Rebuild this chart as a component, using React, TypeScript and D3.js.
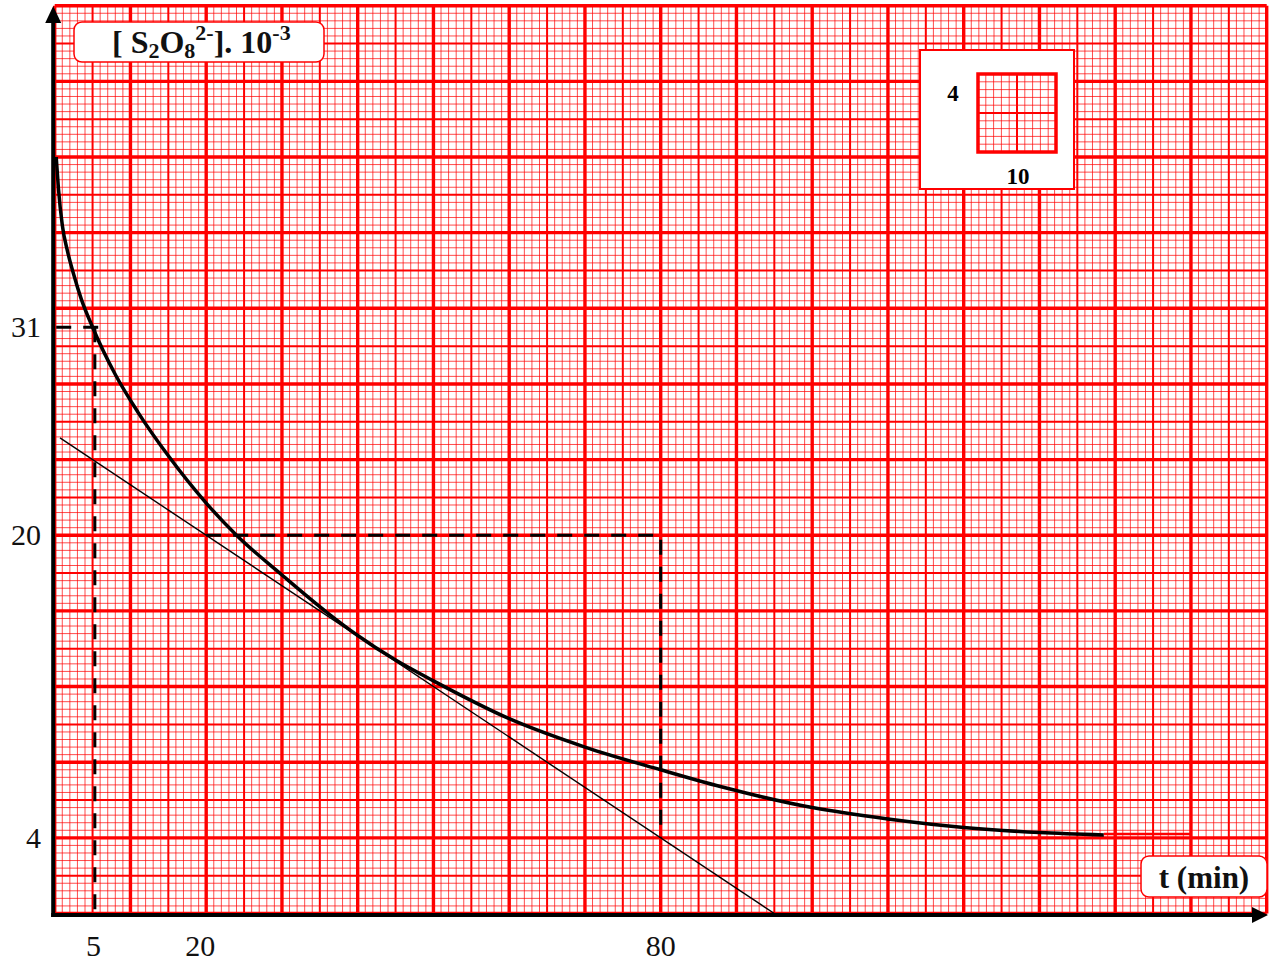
import React from 'react';
import * as d3 from 'd3';

// t (min) and [S2O8 2-].10^-3
const times = [0.2, 0.5, 1, 1.7, 2.5, 3.5, 5, 8, 11, 15, 20, 24, 30, 36, 40, 45, 50, 60, 70, 80, 88, 100, 110, 120, 130, 138.5];
const conc = [40, 38.3, 36.4, 35, 33.8, 32.5, 31, 28.5, 26.5, 24.2, 21.7, 20, 17.9, 15.9, 14.7, 13.4, 12.3, 10.3, 8.8, 7.6, 6.7, 5.6, 5.0, 4.55, 4.28, 4.15];

// tangent passes through (20, 20) and (80, 4)
const tangentT = [0.7, 95];
const tangentPts = [[20, 20], [80, 4]];

const xTickLabels = [5, 20, 80];
const yTickLabels = [31, 20, 4];

const W = 1279;
const H = 965;
const FONT = '"Liberation Serif", "Times New Roman", serif';

export default function App() {
  const x = d3.scaleLinear().domain([0, 160]).range([54.7, 1266.7]);
  const y = d3.scaleLinear().domain([0, 48]).range([913.5, 5.7]);

  const slope = (tangentPts[1][1] - tangentPts[0][1]) / (tangentPts[1][0] - tangentPts[0][0]);
  const tang = (t: number) => tangentPts[0][1] + slope * (t - tangentPts[0][0]);

  // graph paper: 1 min per small division, 0.4 per small division vertically
  const vLines = d3.range(0, 161).map(i => ({ v: i, kind: i % 10 === 0 ? 2 : i % 5 === 0 ? 1 : 0 }));
  const hLines = d3.range(0, 121).map(j => ({ v: j * 0.4, kind: j % 10 === 0 ? 2 : j % 5 === 0 ? 1 : 0 }));
  const widths = [1, 2, 3.4];
  const opac = [0.7, 1, 1];

  const line = d3.line<number>()
    .x((_, i) => x(times[i]))
    .y(d => y(d))
    .curve(d3.curveMonotoneX);

  const x0 = x(0) - 1.5;
  const yAxis = y(0) + 1.5;

  // inset legend grid
  const inS = 78;
  const inStep = inS / 10;

  return (
    <svg width={W} height={H} style={{ position: 'absolute', left: 0, top: 0, background: '#fff' }} fontFamily={FONT}>
      <rect width={W} height={H} fill="#fff" />
      <g stroke="#ff0000">
        {[0, 1, 2].map(k => (
          <g key={k} strokeWidth={widths[k]} strokeOpacity={opac[k]}>
            {vLines.filter(d => d.kind === k).map(d => (
              <line key={'v' + d.v} x1={x(d.v)} x2={x(d.v)} y1={y(48)} y2={y(0)} />
            ))}
            {hLines.filter(d => d.kind === k).map(d => (
              <line key={'h' + d.v} x1={x(0)} x2={x(160)} y1={y(d.v)} y2={y(d.v)} />
            ))}
          </g>
        ))}
      </g>

      {/* title box */}
      <rect x={74} y={22} width={250} height={40} rx={8} fill="#fff" stroke="#ff0000" strokeWidth={1.5} />
      <text x={112} y={53} fontSize={32} fontWeight="bold" fill="#111">
        <tspan>[ S</tspan>
        <tspan fontSize={22} dy={5}>2</tspan>
        <tspan dy={-5}>O</tspan>
        <tspan fontSize={22} dy={5}>8</tspan>
        <tspan fontSize={22} dy={-18}>2-</tspan>
        <tspan dy={13}>]. 10</tspan>
        <tspan fontSize={22} dy={-13}>-3</tspan>
      </text>

      {/* scale inset */}
      <g transform="translate(920,50)">
        <rect width={154} height={139} fill="#fff" stroke="#ff0000" strokeWidth={2} />
        <g transform="translate(58,24)" stroke="#ff0000">
          {d3.range(1, 10).map(i => (
            <g key={i} strokeWidth={i === 5 ? 2 : 1} strokeOpacity={i === 5 ? 1 : 0.7}>
              <line x1={i * inStep} x2={i * inStep} y1={0} y2={inS} />
              <line y1={i * inStep} y2={i * inStep} x1={0} x2={inS} />
            </g>
          ))}
          <rect width={inS} height={inS} fill="none" strokeWidth={3.5} />
        </g>
        <text x={33} y={51} fontSize={23} fontWeight="bold" textAnchor="middle">4</text>
        <text x={98} y={134} fontSize={23} fontWeight="bold" textAnchor="middle">10</text>
      </g>

      {/* t (min) box */}
      <rect x={1141} y={856} width={126} height={41} rx={8} fill="#fff" stroke="#ff0000" strokeWidth={1.5} />
      <text x={1204} y={888} fontSize={31} fontWeight="bold" textAnchor="middle" fill="#111">t (min)</text>

      {/* tangent */}
      <line x1={x(tangentT[0])} y1={y(tang(tangentT[0]))} x2={x(tangentT[1])} y2={y(tang(tangentT[1]))}
        stroke="#000" strokeWidth={1.4} />

      {/* dashed reading lines */}
      <g stroke="#000" strokeWidth={3} strokeDasharray="15,12" fill="none">
        <line x1={x(0.2)} x2={x(6)} y1={y(31)} y2={y(31)} />
        <line x1={x(5.3)} x2={x(5.3)} y1={y(31)} y2={y(0)} />
        <polyline points={`${x(20)},${y(20)} ${x(80)},${y(20)} ${x(80)},${y(4)}`} />
      </g>

      {/* curve */}
      <path d={line(conc) || ''} fill="none" stroke="#000" strokeWidth={3.5} />
      <line x1={x(138.5)} x2={x(150)} y1={y(4.2)} y2={y(4.2)} stroke="#ff0000" strokeWidth={2.5} />

      {/* axes */}
      <g fill="#000" stroke="#000">
        <line x1={x0} x2={x0} y1={yAxis + 2} y2={20} strokeWidth={4} />
        <path d={`M${x0},6 L${x0 - 8},23 L${x0 + 8},23 Z`} stroke="none" />
        <line x1={x0 - 2} x2={1255} y1={yAxis} y2={yAxis} strokeWidth={4} />
        <path d={`M1268,${yAxis} L1252,${yAxis - 8} L1252,${yAxis + 8} Z`} stroke="none" />
      </g>

      {/* tick labels */}
      {yTickLabels.map(v => (
        <text key={'y' + v} x={41} y={y(v) + 10} fontSize={30} textAnchor="end" fill="#111">{v}</text>
      ))}
      {xTickLabels.map(v => (
        <text key={'x' + v} x={x(v) - (v === 5 ? -1 : v === 20 ? 6 : 0)} y={956} fontSize={30} textAnchor="middle" fill="#111">{v}</text>
      ))}
    </svg>
  );
}
